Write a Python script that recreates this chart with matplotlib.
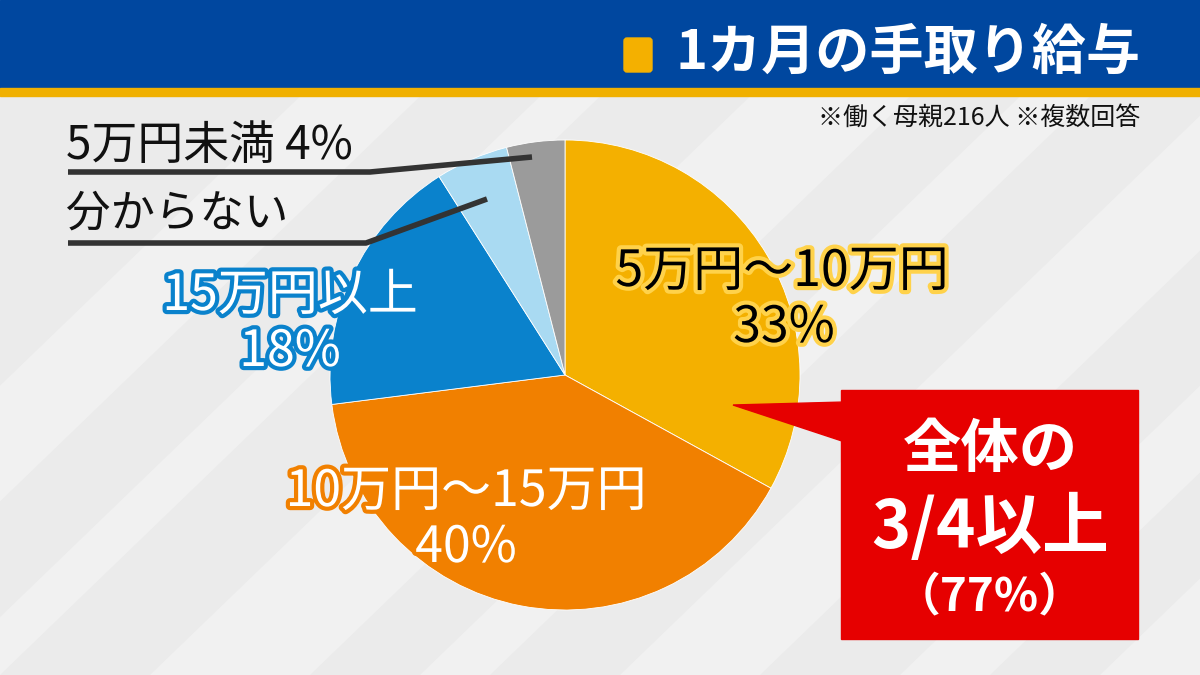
import matplotlib
matplotlib.use('Agg')
import matplotlib.pyplot as plt
import matplotlib.patches as mpatches
import matplotlib.patheffects as pe

plt.rcParams['font.family'] = ['Noto Sans CJK JP', 'DejaVu Sans']

# data
labels = ['5万円～10万円', '10万円～15万円', '15万円以上', '分からない', '5万円未満']
values = [33, 40, 18, 5, 4]
colors = ['#F4B000', '#F18000', '#0A82CC', '#A9DAF2', '#9B9B9B']
title = '1カ月の手取り給与'
note = '※働く母親216人 ※複数回答'
callout = ['全体の', '3/4以上', '（77%）']

W, H = 1200, 675
fig = plt.figure(figsize=(12, 6.75), dpi=100)
ax = fig.add_axes([0, 0, 1, 1])

def Y(y):
    # image pixel row -> axes y
    return H - y

# background with soft diagonal stripes
ax.add_patch(mpatches.Rectangle((0, 0), W, H, color='#EBEBEB', zorder=0))
for x0, w in [(-300, 120), (-60, 60), (150, 160), (420, 70), (620, 140), (900, 90), (1100, 150)]:
    ax.add_patch(mpatches.Polygon([(x0, 0), (x0 + w, 0), (x0 + w + 700, H), (x0 + 700, H)],
                                  closed=True, color='white', alpha=0.3, lw=0, zorder=0.5))

# header
ax.add_patch(mpatches.Rectangle((0, Y(88)), W, 88, color='#00479F', zorder=2))
ax.add_patch(mpatches.Rectangle((0, Y(96)), W, 8, color='#F0B000', zorder=2))
ax.add_patch(mpatches.FancyBboxPatch((624, Y(72)), 28, 34, boxstyle='round,pad=0,rounding_size=3',
                                     color='#F4B000', zorder=3))
ax.text(1140, Y(53), title, fontsize=39, fontweight='bold', color='white',
        ha='right', va='center', zorder=3)
ax.text(1140, Y(118), note, fontsize=18, color='#111111', ha='right', va='center', zorder=3)

# pie
cx, cy, r = 565, Y(375), 235
ax.pie(values, colors=colors, startangle=90, counterclock=False, center=(cx, cy), radius=r,
       wedgeprops=dict(edgecolor='white', linewidth=0.6), frame=True)
ax.set_xlim(0, W)
ax.set_ylim(0, H)
ax.set_aspect('equal')
ax.axis('off')

# slice labels
stroke_y = [pe.withStroke(linewidth=6, foreground='#FFD24A')]
stroke_o = [pe.withStroke(linewidth=6, foreground='#F18000')]
stroke_b = [pe.withStroke(linewidth=6, foreground='#0A82CC')]
fs = 36
ax.text(782, Y(272), labels[0], fontsize=fs, color='black', ha='center', va='center',
        path_effects=stroke_y, zorder=5)
ax.text(784, Y(328), f'{values[0]}%', fontsize=fs, color='black', ha='center', va='center',
        path_effects=stroke_y, zorder=5)
ax.text(466, Y(492), labels[1], fontsize=fs, color='white', ha='center', va='center',
        path_effects=stroke_o, zorder=5)
ax.text(466, Y(548), f'{values[1]}%', fontsize=fs, color='white', ha='center', va='center',
        path_effects=stroke_o, zorder=5)
ax.text(290, Y(296), labels[2], fontsize=fs, color='white', ha='center', va='center',
        path_effects=stroke_b, zorder=5)
ax.text(290, Y(352), f'{values[2]}%', fontsize=fs, color='white', ha='center', va='center',
        path_effects=stroke_b, zorder=5)

# small slices with leader lines
ax.text(66, Y(146), f'{labels[4]} {values[4]}%', fontsize=33, color='#111111',
        ha='left', va='center', zorder=5)
ax.plot([68, 370, 532], [Y(172), Y(172), Y(157)], color='#333333', lw=4, zorder=5,
        solid_capstyle='butt')
ax.text(66, Y(214), labels[3], fontsize=32, color='#111111', ha='left', va='center', zorder=5)
ax.plot([68, 366, 487], [Y(243), Y(243), Y(199)], color='#333333', lw=4, zorder=5,
        solid_capstyle='butt')

# callout box
red = '#E60000'
ax.add_patch(mpatches.Rectangle((841, Y(639)), 297, 249, color=red, zorder=6))
ax.add_patch(mpatches.Polygon([(733, Y(405)), (845, Y(402)), (845, Y(442))], closed=True,
                              color=red, zorder=6))
ax.text(990, Y(450), callout[0], fontsize=42, fontweight='bold', color='white',
        ha='center', va='center', zorder=7)
ax.text(990, Y(528), callout[1], fontsize=48, fontweight='bold', color='white',
        ha='center', va='center', zorder=7)
ax.text(990, Y(597), callout[2], fontsize=33, fontweight='bold', color='white',
        ha='center', va='center', zorder=7)

fig.savefig('out.png', dpi=100)
